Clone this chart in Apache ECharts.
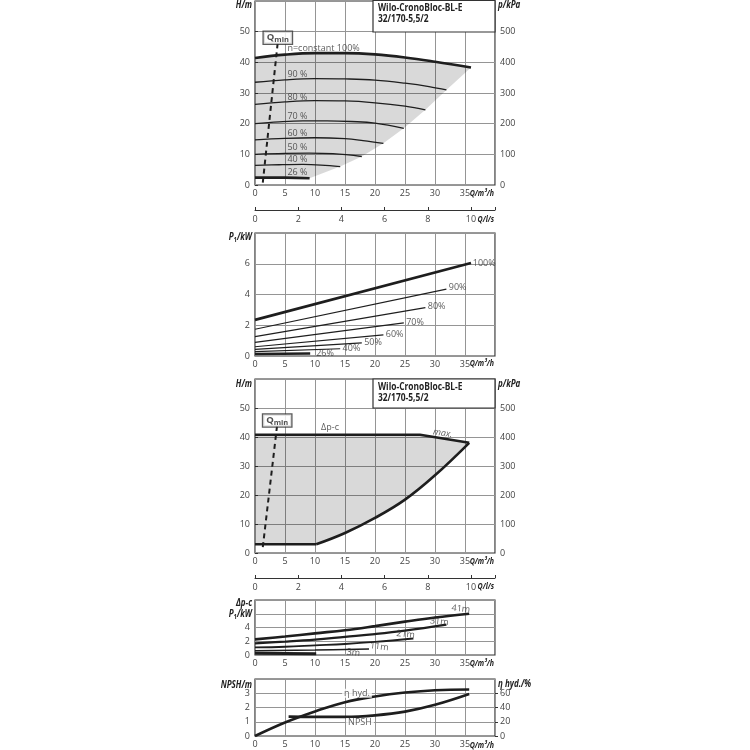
<!DOCTYPE html>
<html>
<head>
<meta charset="utf-8">
<script src="https://cdn.jsdelivr.net/npm/echarts@6/dist/echarts.min.js"></script>
<style>
html,body{margin:0;padding:0;background:#fff}
#main{width:750px;height:750px}
</style>
</head>
<body>
<div id="main"></div>
<script>
const FONT = '"Open Sans","Noto Sans",sans-serif';
const INK = '#1e1e1e';
const GRIDC = '#959595';

// H(Q) bei n = konstant, [Q m3/h, H m]
const h100 = [[0,41.4],[5,42.5],[10,43.0],[15,43.0],[20,42.6],[25,41.6],[30,40.2],[36,38.3]];
const h90 = [[0,33.5],[5,34.3],[10,34.7],[15,34.6],[20,34.2],[25,33.2],[29,32.1],[31.9,31.0]];
const h80 = [[0,26.3],[5,27.1],[10,27.5],[15,27.4],[20,26.8],[25,25.7],[28.4,24.5]];
const h70 = [[0,20.0],[4,20.6],[8,20.9],[12,20.9],[16,20.7],[20,20.2],[24.8,18.5]];
const h60 = [[0,14.7],[5,15.2],[10,15.4],[15,15.1],[18,14.5],[21.4,13.6]];
const h50 = [[0,10.0],[5,10.3],[9,10.4],[13,10.2],[17.8,9.3]];
const h40 = [[0,6.4],[4,6.6],[8,6.7],[11,6.5],[14.2,6.0]];
const h26 = [[0,2.4],[5,2.4],[9.1,2.2]];
const hEnvelope = [[36,38.3],[31.9,31.0],[28.4,24.5],[24.8,18.5],[21.4,13.6],[17.8,9.3],[14.2,6.0],[9.1,2.2]];
const qmin1 = [[1.3,0.8],[3.8,46.7]];
const hLabels = [['n=constant 100%',5.4,44.6],['90 %',5.4,36.0],['80 %',5.4,28.6],['70 %',5.4,22.3],
  ['60 %',5.4,16.8],['50 %',5.4,12.4],['40 %',5.4,8.3],['26 %',5.4,4.1]];

// P1(Q) bei n = konstant, [Q, kW]
const p100 = [[0,2.35],[36,6.05]];
const p90 = [[0,1.74],[31.9,4.35]];
const p80 = [[0,1.26],[28.4,3.15]];
const p70 = [[0,0.89],[24.8,2.15]];
const p60 = [[0,0.60],[21.4,1.37]];
const p50 = [[0,0.43],[17.8,0.85]];
const p40 = [[0,0.28],[14.2,0.47]];
const p26 = [[0,0.13],[9.2,0.16]];
const pLabels = [['100%',36.3,6.05],['90%',32.3,4.45],['80%',28.8,3.2],['70%',25.2,2.2],
  ['60%',21.8,1.4],['50%',18.2,0.85],['40%',14.6,0.47],['26%',10.2,0.15]];

// dp-c Regelbereich, [Q, H]
const dpTop = [[0,40.8],[27.5,40.8],[35.7,38.0]];
const dpLow = [[10.2,3.0],[15,6.9],[20,12.1],[25,18.4],[30,26.8],[35.7,38.0]];
const dpBase = [[0,3.0],[10.2,3.0]];
const qmin3 = [[1.3,2.0],[3.7,44.3]];
const dpLabels = [['\u0394p-c',12.5,43.2],['max.',31.3,41.3]];

// P1 bei dp-c, [Q, kW]
const d41 = [[0,2.27],[5,2.68],[10,3.15],[15,3.6],[20,4.2],[25,4.85],[30,5.45],[35.7,6.0]];
const d31 = [[0,1.7],[5,1.95],[10,2.25],[15,2.65],[20,3.05],[25,3.55],[31.9,4.43]];
const d21 = [[0,1.1],[5,1.2],[10,1.4],[15,1.6],[20,1.9],[26.4,2.4]];
const d11 = [[0,0.63],[10,0.72],[19,0.87]];
const d3 = [[0,0.24],[10.2,0.2]];
const dLabels = [['41m',34.3,6.7],['31m',30.7,4.85],['21m',25.1,3.0],['11m',20.7,1.2],['3m',16.4,0.34]];

// NPSH [Q, m] und Wirkungsgrad [Q, %]
const npsh = [[5.6,1.36],[10,1.34],[15,1.34],[20,1.45],[25,1.71],[30,2.19],[35.7,2.95]];
const etaHyd = [[0,0],[5,19],[10,34.5],[15,47.5],[20,55.5],[25,61],[30,64.3],[35.7,65.2]];
const nLabels = [['\u03b7 hyd.',17,3.0],['NPSH',17.5,0.95]];

const tickLabel = {color:'#444', fontSize:9, fontFamily:FONT};

function qAxis(g){
  return {type:'value', gridIndex:g, position:'bottom', min:0, max:40, interval:5,
    axisLine:{show:false, onZero:false}, axisTick:{show:false},
    splitLine:{show:true, lineStyle:{color:GRIDC, width:1}},
    axisLabel:Object.assign({showMaxLabel:false, margin:4}, tickLabel)};
}
function lsAxis(g){
  return {type:'value', gridIndex:g, position:'bottom', offset:25, min:0, max:40/3.6, interval:2,
    axisLine:{show:true, onZero:false, lineStyle:{color:'#333', width:1}},
    axisTick:{show:true, inside:true, length:3, lineStyle:{color:'#333'}},
    splitLine:{show:false},
    axisLabel:Object.assign({margin:5, formatter:function(v){ return v <= 10.001 ? String(v) : ''; }}, tickLabel)};
}
function leftAxis(g, max, step, fmt){
  return {type:'value', gridIndex:g, position:'left', min:0, max:max, interval:step,
    axisLine:{show:false}, axisTick:{show:false},
    splitLine:{show:true, lineStyle:{color:GRIDC, width:1}},
    axisLabel:Object.assign({showMaxLabel:false, margin:5}, fmt ? {formatter:fmt} : {}, tickLabel)};
}
function rightAxis(g, max, step){
  return {type:'value', gridIndex:g, position:'right', min:0, max:max, interval:step,
    axisLine:{show:false}, axisTick:{show:true, length:3, lineStyle:{color:'#333'}},
    splitLine:{show:false},
    axisLabel:Object.assign({showMaxLabel:false, margin:5}, tickLabel)};
}

// axis titles (bold italic, narrowed, subscript via rich)
function title(x, y, text, align, size, sx){
  size = size || 10;
  return {type:'text', x:x, y:y, scaleX:sx || 0.8, z:110, style:{text:text, align:align, verticalAlign:'middle',
    font:'italic bold ' + size + 'px ' + FONT, fill:'#222',
    rich:{a:{fontStyle:'italic', fontWeight:'bold', fontSize:size, fontFamily:FONT, fill:'#222'},
          s:{fontWeight:'bold', fontSize:7, fontFamily:FONT, fill:'#222', padding:[5,0,0,0]}}}};
}
function qTitle(y, text){ return title(494, y, text, 'right', 9.5, 0.74); }

function curve(data, xi, yi, w, extra){
  return Object.assign({type:'line', xAxisIndex:xi, yAxisIndex:yi, data:data, smooth:0.4,
    symbol:'none', silent:true, z:4, lineStyle:{color:INK, width:w}}, extra||{});
}
function area(points, xi, yi){
  return {type:'custom', xAxisIndex:xi, yAxisIndex:yi, data:[[0,0]], silent:true, z:2,
    renderItem:function(params, api){
      return {type:'polygon', shape:{points:points.map(function(p){ return api.coord(p); })},
        style:{fill:'rgba(0,0,0,0.15)'}};
    }};
}
function texts(items, xi, yi, label){
  return {type:'scatter', xAxisIndex:xi, yAxisIndex:yi, symbolSize:0, silent:true, z:6,
    data:items.map(function(t){ return {name:t[0], value:[t[1], t[2]]}; }),
    label:Object.assign({show:true, formatter:'{b}', position:'right', distance:0,
      color:'#333', fontSize:9, fontFamily:FONT}, label||{})};
}
const qminLabel = {position:'top', distance:-2, formatter:'{q|Q}{s|min}',
  backgroundColor:'#fff', borderColor:'#333', borderWidth:1.3, padding:[0,3,0,3],
  rich:{q:{fontFamily:FONT, fontSize:9.5, fontWeight:'bold', color:'#222'},
        s:{fontFamily:FONT, fontSize:7.5, fontWeight:'bold', color:'#222', padding:[4,0,0,0]}}};
const dash = {lineStyle:{color:INK, width:2, type:[5,4]}, smooth:false};

const panel1Area = h100.concat(hEnvelope.slice(1), h26.slice(0, -1).reverse());
const panel3Area = dpTop.concat(dpLow.slice(0, -1).reverse(), [dpBase[0]]);

const boxText = 'Wilo-CronoBloc-BL-E\n32/170-5,5/2';

const chart = echarts.init(document.getElementById('main'));
chart.setOption({
  animation:false,
  backgroundColor:'#fff',
  grid:[
    {left:255, top:1, width:240, height:184, show:true, borderColor:'#333', borderWidth:1.2},
    {left:255, top:233, width:240, height:123, show:true, borderColor:'#333', borderWidth:1.2},
    {left:255, top:379, width:240, height:174, show:true, borderColor:'#333', borderWidth:1.2},
    {left:255, top:600, width:240, height:55, show:true, borderColor:'#333', borderWidth:1.2},
    {left:255, top:679, width:240, height:57, show:true, borderColor:'#333', borderWidth:1.2}
  ],
  xAxis:[qAxis(0), lsAxis(0), qAxis(1), qAxis(2), lsAxis(2), qAxis(3), qAxis(4)],
  yAxis:[
    leftAxis(0, 60, 10),
    rightAxis(0, 600, 100),
    leftAxis(1, 8, 2),
    leftAxis(2, 60, 10),
    rightAxis(2, 600, 100),
    leftAxis(3, 8, 2, function(v){ return v <= 4 ? String(v) : ''; }),
    leftAxis(4, 4, 1),
    rightAxis(4, 80, 20)
  ],
  graphic:[
    {type:'rect', shape:{x:373, y:0.5, width:122, height:31.5}, style:{fill:'#fff', stroke:'#333', lineWidth:1.2}, z:100},
    {type:'text', x:378, y:2, scaleX:0.84, z:101, style:{text:boxText, fill:'#222', font:'bold 10px ' + FONT, lineHeight:11.5}},
    {type:'rect', shape:{x:373, y:379, width:122, height:29}, style:{fill:'#fff', stroke:'#333', lineWidth:1.2}, z:100},
    {type:'text', x:378, y:381, scaleX:0.84, z:101, style:{text:boxText, fill:'#222', font:'bold 10px ' + FONT, lineHeight:11.5}},
    title(252, 5, 'H/m', 'right'),
    title(498, 5, 'p/kPa', 'left'),
    qTitle(193, 'Q/m\u00b3/h'),
    qTitle(219, 'Q/l/s'),
    title(252, 237, '{a|P}{s|1}{a|/kW}', 'right'),
    qTitle(363, 'Q/m\u00b3/h'),
    title(252, 384, 'H/m', 'right'),
    title(498, 384, 'p/kPa', 'left'),
    qTitle(561, 'Q/m\u00b3/h'),
    qTitle(586, 'Q/l/s'),
    title(252, 603, '\u0394p-c', 'right'),
    title(252, 614, '{a|P}{s|1}{a|/kW}', 'right'),
    qTitle(663, 'Q/m\u00b3/h'),
    title(252, 685, 'NPSH/m', 'right'),
    title(498, 684, '\u03b7 hyd./%', 'left'),
    qTitle(745, 'Q/m\u00b3/h')
  ],
  series:[
    // Panel 1
    area(panel1Area, 0, 0),
    curve(h100, 0, 0, 2.6),
    curve(h90, 0, 0, 1.3),
    curve(h80, 0, 0, 1.3),
    curve(h70, 0, 0, 1.3),
    curve(h60, 0, 0, 1.3),
    curve(h50, 0, 0, 1.3),
    curve(h40, 0, 0, 1.3),
    curve(h26, 0, 0, 2.6),
    curve(qmin1, 0, 0, 2, dash),
    texts(hLabels, 0, 0),
    texts([['Qmin', qmin1[1][0], qmin1[1][1]]], 0, 0, qminLabel),
    // Panel 2
    curve(p100, 2, 2, 2.6),
    curve(p90, 2, 2, 1.2),
    curve(p80, 2, 2, 1.2),
    curve(p70, 2, 2, 1.2),
    curve(p60, 2, 2, 1.2),
    curve(p50, 2, 2, 1.2),
    curve(p40, 2, 2, 1.2),
    curve(p26, 2, 2, 2.6),
    texts(pLabels, 2, 2),
    // Panel 3
    area(panel3Area, 3, 3),
    curve(dpTop, 3, 3, 2.6, {smooth:false}),
    curve(dpLow, 3, 3, 2.6),
    curve(dpBase, 3, 3, 2.6, {smooth:false}),
    curve(qmin3, 3, 3, 2, dash),
    texts(dpLabels.slice(0, 1), 3, 3, {position:'inside'}),
    texts(dpLabels.slice(1), 3, 3, {position:'inside', rotate:-9, fontStyle:'italic'}),
    texts([['Qmin', qmin3[1][0], qmin3[1][1]]], 3, 3, qminLabel),
    // Panel 4
    curve(d41, 5, 5, 2.6),
    curve(d31, 5, 5, 2.2),
    curve(d21, 5, 5, 1.8),
    curve(d11, 5, 5, 1.5),
    curve(d3, 5, 5, 3),
    texts(dLabels, 5, 5, {position:'inside', rotate:-6}),
    // Panel 5
    curve(npsh, 6, 6, 2.6),
    curve(etaHyd, 6, 7, 2.6),
    texts(nLabels, 6, 6, {position:'inside', backgroundColor:'#fff', padding:[0,2,0,2]})
  ]
});
</script>
</body>
</html>
